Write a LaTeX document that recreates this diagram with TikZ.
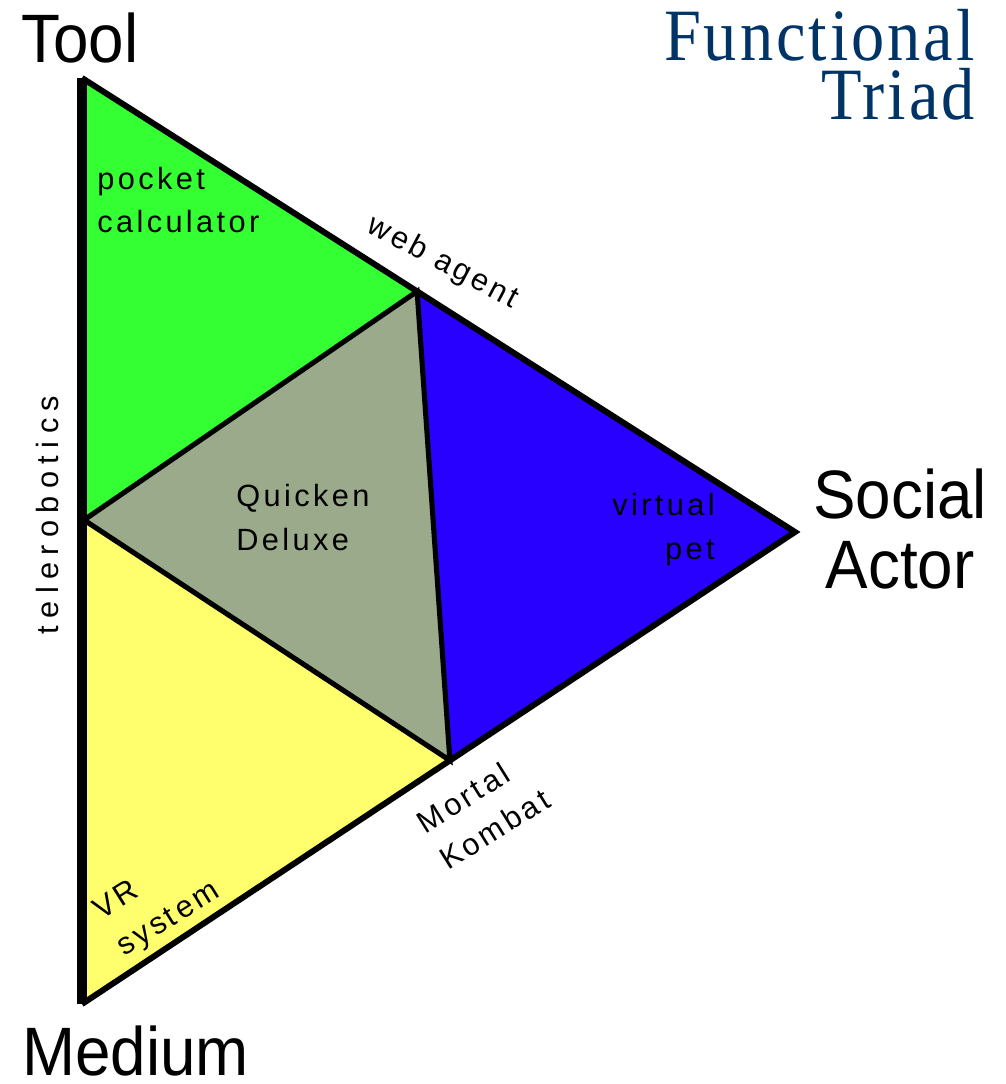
\documentclass[tikz,border=0pt]{standalone}
\usepackage{fontspec}
\setmainfont{Liberation Sans}
\newfontfamily\labelfont[LetterSpace=11]{Liberation Sans}
\newfontfamily\widelabelfont[LetterSpace=24]{Liberation Sans}
\newfontfamily\cornerfont[FakeStretch=0.93]{Liberation Sans}
\newfontfamily\titlefont[FakeStretch=0.9,LetterSpace=4]{Liberation Serif}
\usetikzlibrary{calc}
\definecolor{triadgreen}{RGB}{51,255,51}
\definecolor{triadblue}{RGB}{40,0,255}
\definecolor{triadgray}{RGB}{156,170,140}
\definecolor{triadyellow}{RGB}{255,255,110}
\definecolor{triadnavy}{RGB}{0,51,102}

\begin{document}
\begin{tikzpicture}[x=0.02cm,y=-0.02cm,
    corner/.style={font=\cornerfont\fontsize{39}{40}\selectfont,inner sep=0pt},
    lbl/.style={font=\labelfont\fontsize{17.5}{24.5}\selectfont,inner sep=0pt},
    outeredge/.style={line width=3.4pt,line join=miter},
    inneredge/.style={line width=2.9pt,line join=miter}
  ]
    \useasboundingbox (0,0) rectangle (1005,1084);

    \coordinate (tool)   at (82,78);
    \coordinate (medium) at (82,1004);
    \coordinate (social) at (795,532);
    \coordinate (mid)    at (84,520);
    \coordinate (up)     at ($(tool)!0.47!(social)$);
    \coordinate (low)    at ($(medium)!0.516!(social)$);

    % the four regions
    \fill[triadgreen]  (tool) -- (up) -- (mid) -- cycle;
    \fill[triadgray]   (mid) -- (up) -- (low) -- cycle;
    \fill[triadblue]   (up) -- (social) -- (low) -- cycle;
    \fill[triadyellow] (mid) -- (low) -- (medium) -- cycle;

    \draw[inneredge] (mid) -- (up) -- (low) -- cycle;
    \draw[outeredge] (tool) -- (social) -- (medium);
    \draw[line width=5.7pt] (tool) -- (medium);

    % corner labels
    \node[corner,anchor=base west] (toolname) at (21,63) {Tool};
    \node[corner,anchor=base west] (mediumname) at (22,1075) {Medium};
    \node[corner,anchor=base,align=center,font=\cornerfont\fontsize{39}{39.7}\selectfont]
        (socialname) at (900,588) {Social\\Actor};
    \node[anchor=base east,align=right,inner sep=0pt,text=triadnavy,
          font=\titlefont\fontsize{42}{34}\selectfont] (title) at (975,120) {Functional\\Triad};

    % examples
    \node[lbl,anchor=base west,align=left] (calc) at (97,233) {pocket\\calculator};
    \node[lbl,anchor=base,rotate=-28] (agent) at (439,270) {web agent};
    \node[lbl,anchor=base west,align=left] (quicken) at (236,550) {Quicken\\Deluxe};
    \node[lbl,anchor=base east,align=right] (pet) at (715,559) {virtual\\pet};
    \node[lbl,anchor=base,rotate=90,font=\widelabelfont\fontsize{17.5}{24.5}\selectfont]
        (robot) at (58,515) {telerobotics};
    \node[lbl,anchor=base west,align=left,rotate=32] (kombat) at (448,871) {Mortal\\Kombat};
    \node[lbl,anchor=base west,align=left,rotate=32] (vr) at (124,957) {VR\\system};
\end{tikzpicture}
\end{document}
